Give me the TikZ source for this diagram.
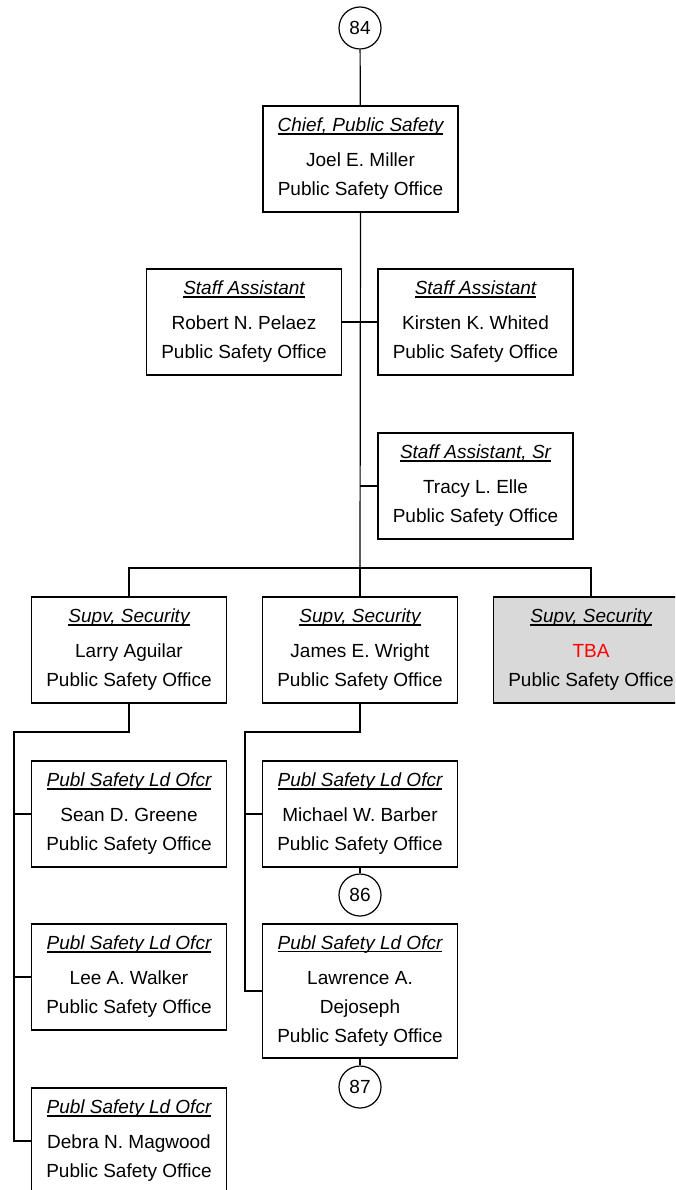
\documentclass[tikz,border=0pt]{standalone}
\usepackage{fontspec}
\setmainfont{Liberation Sans}
\usetikzlibrary{calc, positioning}
\definecolor{TBAred}{HTML}{FF0000}
\definecolor{TBAgray}{HTML}{D9D9D9}
\newcommand{\jobtitle}[1]{\setbox0\hbox{\itshape #1}\rlap{\rule[-2.6pt]{\wd0}{1.1pt}}\box0}

\begin{document}
\begin{tikzpicture}[x=1pt, y=-1pt, line width=1.2pt,
      post/.style={draw, fill=white, minimum width=195pt, minimum height=106pt,
         align=center, inner sep=0pt, font=\fontsize{19}{29}\selectfont},
      pageref/.style={circle, draw, fill=white, minimum size=42pt, inner sep=0pt,
         font=\fontsize{19}{23}\selectfont}]
   \useasboundingbox (0,0) rectangle (675,1190);
   \clip (0,0) rectangle (675,1190);
   % Top of the chart
   \node[pageref] (c84) at (360,28) {84};
   \node[post] (chief) at (360.5,159)
      {\jobtitle{Chief, Public Safety}\\[6pt] Joel E. Miller\\ Public Safety Office};
   % Staff assistants
   \node[post] (pelaez) at (244,322)
      {\jobtitle{Staff Assistant}\\[6pt] Robert N. Pelaez\\ Public Safety Office};
   \node[post] (whited) at (475.5,322)
      {\jobtitle{Staff Assistant}\\[6pt] Kirsten K. Whited\\ Public Safety Office};
   \node[post] (elle) at (475.5,486)
      {\jobtitle{Staff Assistant, Sr}\\[6pt] Tracy L. Elle\\ Public Safety Office};
   % Supervisors
   \node[post] (aguilar) at (129,650)
      {\jobtitle{Supv, Security}\\[6pt] Larry Aguilar\\ Public Safety Office};
   \node[post] (wright) at (360,650)
      {\jobtitle{Supv, Security}\\[6pt] James E. Wright\\ Public Safety Office};
   \node[post, fill=TBAgray] (tba) at (591,650)
      {\jobtitle{Supv, Security}\\[6pt] \textcolor{TBAred}{TBA}\\ Public Safety Office};
   % Lead officers under Aguilar
   \node[post] (greene) at (129,814)
      {\jobtitle{Publ Safety Ld Ofcr}\\[6pt] Sean D. Greene\\ Public Safety Office};
   \node[post] (walker) at (129,977)
      {\jobtitle{Publ Safety Ld Ofcr}\\[6pt] Lee A. Walker\\ Public Safety Office};
   \node[post] (magwood) at (129,1141)
      {\jobtitle{Publ Safety Ld Ofcr}\\[6pt] Debra N. Magwood\\ Public Safety Office};
   % Lead officers under Wright
   \node[post] (barber) at (360,814)
      {\jobtitle{Publ Safety Ld Ofcr}\\[6pt] Michael W. Barber\\ Public Safety Office};
   \node[pageref] (c86) at (360,895) {86};
   \node[post, minimum height=134pt] (dejoseph) at (360,991)
      {\jobtitle{Publ Safety Ld Ofcr}\\[6pt] Lawrence A.\\ Dejoseph\\ Public Safety Office};
   \node[pageref] (c87) at (360,1087) {87};
   % Junction points
   \coordinate (bus) at (360,568);
   \coordinate (lspine) at (14,732);
   \coordinate (mspine) at (245,732);
   % Connectors
   \draw (c84) -- (chief);
   \draw (chief.south) -- (bus);
   \draw (pelaez.east) -- (whited.west);
   \draw (elle.west) -- (elle.west -| bus);
   \draw (aguilar.north) |- (bus) -| (tba.north);
   \draw (bus) -- (wright.north);
   \draw (aguilar.south) |- (lspine) |- (magwood.west);
   \draw (greene.west) -- (greene.west -| lspine);
   \draw (walker.west) -- (walker.west -| lspine);
   \draw (wright.south) |- (mspine) |- (dejoseph.west);
   \draw (barber.west) -- (barber.west -| mspine);
   \draw (barber) -- (c86);
   \draw (dejoseph) -- (c87);
\end{tikzpicture}
\end{document}
